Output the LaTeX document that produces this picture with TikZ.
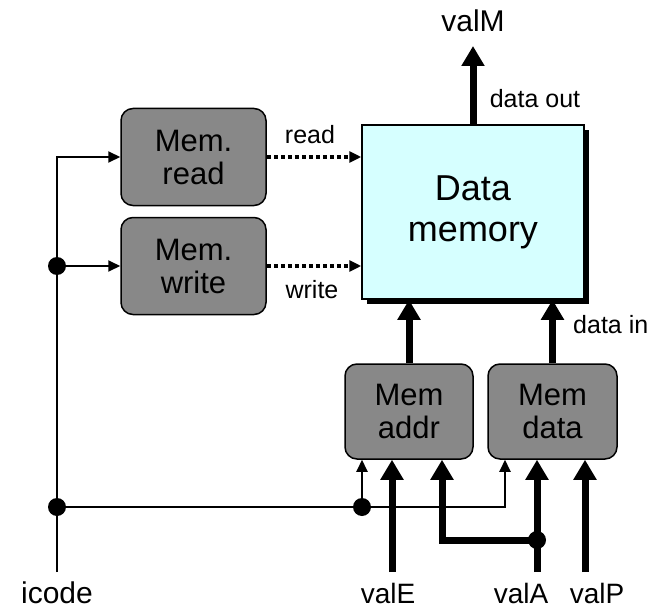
\documentclass[tikz,border=0pt]{standalone}
\usepackage{fontspec}
\setmainfont{Liberation Sans}
\usetikzlibrary{arrows.meta,positioning,shadows}

\definecolor{unitgray}{RGB}{136,136,136}
\definecolor{memcyan}{RGB}{214,255,255}

\tikzset{
  unit/.style={draw,line width=1.5pt,rounded corners=12pt,fill=unitgray,align=center,
    inner sep=0pt,font=\fontsize{31}{33}\selectfont},
  ctl/.style={line width=2pt,-{Triangle[length=12pt,width=11pt]}},
  bus/.style={line width=7pt,-{Triangle[length=20pt,width=22pt]}},
  rw/.style={line width=3.5pt,dash pattern=on 4pt off 3pt,-{Triangle[length=12pt,width=11pt]}},
  sig/.style={anchor=base,inner sep=0pt,font=\fontsize{28}{30}\selectfont},
  small/.style={anchor=base,inner sep=0pt,font=\fontsize{25}{27}\selectfont},
  dot/.style={circle,fill,inner sep=0pt,minimum size=18pt}
}

\begin{document}
\begin{tikzpicture}[x=1pt,y=-1pt]

    \useasboundingbox (0,0) rectangle (654,610);

    \node[draw,line width=1.5pt,fill=memcyan,minimum width=222pt,minimum height=174pt,
      align=center,font=\fontsize{36}{41}\selectfont,
      drop shadow={opacity=1,fill=black,shadow xshift=5pt,shadow yshift=-5pt}]
      (dmem) at (473,212) {Data\\memory};

    \node[unit,minimum width=145pt,minimum height=97pt] (mread) at (193.5,157) {Mem.\\read};
    \node[unit,minimum width=145pt,minimum height=97pt] (mwrite) at (193.5,266) {Mem.\\write};
    \node[unit,minimum width=128pt,minimum height=95pt] (maddr) at (409,411.5) {Mem\\addr};
    \node[unit,minimum width=129pt,minimum height=95pt] (mdata) at (552.5,411.5) {Mem\\data};

    \coordinate (inIcode) at (57,572);
    \coordinate (inE) at (392,572);
    \coordinate (inA) at (537,572);
    \coordinate (inP) at (585,572);
    \coordinate (outM) at (473,46);
    \coordinate (j1) at (57,266);
    \coordinate (j2) at (57,507);
    \coordinate (j3) at (362,507);
    \coordinate (jA) at (537,540);

    \node[sig,font=\fontsize{30}{32}\selectfont] (icode) at (57,603) {icode};
    \node[sig] (valE) at (388,603) {valE};
    \node[sig] (valA) at (521,603) {valA};
    \node[sig] (valP) at (597,603) {valP};
    \node[sig,font=\fontsize{30}{32}\selectfont] (valM) at (473,32) {valM};
    \node[small] (dout) at (535,108) {data out};
    \node[small,anchor=base west] (din) at (573,333) {data in};
    \node[small] (lread) at (310,143) {read};
    \node[small] (lwrite) at (312,298) {write};

    \draw[ctl] (inIcode) |- (mread.west);
    \draw[ctl] (j1) -- (mwrite.west);
    \draw[ctl] (j2) -| ([xshift=-47.5pt]mdata.south);
    \draw[ctl] (j3) -- (j3 |- maddr.south);

    \draw[rw] (mread.east) -- (mread.east -| dmem.west);
    \draw[rw] (mwrite.east) -- (mwrite.east -| dmem.west);

    \draw[bus] (inE) -- (inE |- maddr.south);
    \draw[bus] (inA) -- (inA |- mdata.south);
    \draw[bus] (inP) -- (inP |- mdata.south);
    \draw[bus] (jA) -| ([xshift=33pt]maddr.south);
    \draw[bus] (maddr.north) -- (maddr.north |- dmem.south);
    \draw[bus] (mdata.north) -- (mdata.north |- dmem.south);
    \draw[bus] (dmem.north) -- (outM);

    \node[dot] at (j1) {};
    \node[dot] at (j2) {};
    \node[dot] at (j3) {};
    \node[dot] at (jA) {};

\end{tikzpicture}
\end{document}
